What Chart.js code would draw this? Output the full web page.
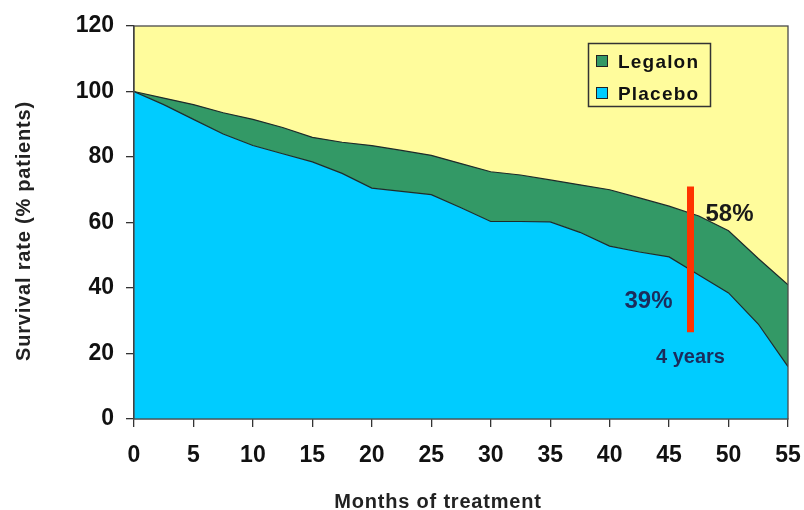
<!DOCTYPE html>
<html>
<head>
<meta charset="utf-8">
<title>Survival rate</title>
<script src="https://cdn.jsdelivr.net/npm/chart.js@4.4.1/dist/chart.umd.min.js"></script>
<style>
  html, body { margin: 0; padding: 0; background: #ffffff; }
  #wrap { width: 804px; height: 510px; }
</style>
</head>
<body>
<div id="wrap"><canvas id="survivalChart" width="804" height="510"></canvas></div>
<script>
// 🔹 Data (months of treatment vs % surviving)
const months = [0, 2.5, 5, 7.5, 10, 12.5, 15, 17.5, 20, 22.5, 25, 27.5, 30, 32.5, 35, 37.5, 40, 42.5, 45, 47.5, 50, 52.5, 55];
const legalon = [100, 98, 96, 93.5, 91.5, 89, 86, 84.5, 83.5, 82, 80.5, 78, 75.5, 74.5, 73, 71.5, 70, 67.5, 65, 62, 57.5, 49, 41];
const placebo = [100, 96, 91.5, 87, 83.5, 81, 78.5, 75, 70.5, 69.5, 68.5, 64.5, 60.3, 60.3, 60.2, 57, 52.8, 51, 49.5, 44, 38.5, 29, 16];

// 🔹 The red "4 years" marker
const markerMonth = [46.8, 46.8];
const markerValue = [71, 26.5];

// 🔹 Axis ticks
const xTicks = [0, 5, 10, 15, 20, 25, 30, 35, 40, 45, 50, 55];
const yTicks = [0, 20, 40, 60, 80, 100, 120];

const seriesNames = ["Legalon", "Placebo"];
const FONT = '"Liberation Sans", Arial, Helvetica, sans-serif';

const GREEN = "#339966";
const BLUE = "#00CCFF";
const YELLOW = "#FFFC9C";
const NAVY = "#1B2C5C";

const toPoints = (xs, ys) => xs.map((x, i) => ({ x: x, y: ys[i] }));

// 🔹 Yellow plot background + frame
const plotBackground = {
  id: "plotBackground",
  beforeDraw(chart) {
    const { ctx, chartArea: a } = chart;
    ctx.save();
    ctx.fillStyle = YELLOW;
    ctx.fillRect(a.left, a.top, a.right - a.left, a.bottom - a.top);
    ctx.restore();
  },
  afterDraw(chart) {
    const { ctx, chartArea: a } = chart;
    ctx.save();
    ctx.strokeStyle = "#4a4a4a";
    ctx.lineWidth = 1.3;
    ctx.strokeRect(a.left, a.top, a.right - a.left, a.bottom - a.top);
    ctx.restore();
  },
};

// 🔹 Legend box, percent labels and axis titles
const annotations = {
  id: "annotations",
  afterDraw(chart) {
    const { ctx } = chart;
    const xs = chart.scales.x;
    const ys = chart.scales.y;
    ctx.save();

    // legend
    ctx.strokeStyle = "#333";
    ctx.lineWidth = 1.5;
    ctx.strokeRect(588.5, 43.5, 122, 63);
    const colors = [GREEN, BLUE];
    seriesNames.forEach((name, i) => {
      const top = 55 + i * 32;
      ctx.fillStyle = colors[i];
      ctx.fillRect(596, top, 12, 12);
      ctx.strokeStyle = "#222";
      ctx.lineWidth = 1;
      ctx.strokeRect(596.5, top + 0.5, 11, 11);
      ctx.fillStyle = "#111";
      ctx.font = "bold 19px " + FONT;
      ctx.letterSpacing = "1.2px";
      ctx.textAlign = "left";
      ctx.textBaseline = "alphabetic";
      ctx.fillText(name, 618, top + 13);
    });
    ctx.letterSpacing = "0px";

    // percent labels around the marker
    const mx = xs.getPixelForValue(markerMonth[0]);
    ctx.textAlign = "center";
    ctx.textBaseline = "alphabetic";
    ctx.font = "bold 24px " + FONT;
    ctx.fillStyle = "#1a1a1a";
    ctx.fillText("58%", mx + 39, ys.getPixelForValue(60.5));
    ctx.fillStyle = NAVY;
    ctx.fillText("39%", mx - 42, ys.getPixelForValue(33.8));
    ctx.font = "bold 20px " + FONT;
    ctx.fillText("4 years", mx, ys.getPixelForValue(17.2));

    // axis titles
    ctx.fillStyle = "#222";
    ctx.font = "bold 20px " + FONT;
    ctx.letterSpacing = "0.8px";
    ctx.fillText("Months of treatment", 438, 508);
    ctx.translate(30, 231);
    ctx.rotate(-Math.PI / 2);
    ctx.fillText("Survival rate (% patients)", 0, 0);

    ctx.restore();
  },
};

const tickFont = { family: FONT, size: 23, weight: "bold" };

new Chart(document.getElementById("survivalChart"), {
  type: "line",
  data: {
    datasets: [
      {
        label: "Placebo",
        data: toPoints(months, placebo),
        borderColor: "#1e2a2a",
        borderWidth: 1.2,
        backgroundColor: BLUE,
        fill: "origin",
        pointRadius: 0,
        tension: 0,
      },
      {
        label: "Legalon",
        data: toPoints(months, legalon),
        borderColor: "#1e2a2a",
        borderWidth: 1.2,
        backgroundColor: GREEN,
        fill: 0,
        pointRadius: 0,
        tension: 0,
      },
      {
        label: "4 years",
        data: toPoints(markerMonth, markerValue),
        borderColor: "#FF3300",
        borderWidth: 7,
        borderCapStyle: "butt",
        fill: false,
        pointRadius: 0,
        order: -1,
      },
    ],
  },
  options: {
    responsive: false,
    animation: false,
    layout: { padding: { top: 26, right: 16, left: 0, bottom: 0 } },
    plugins: {
      legend: { display: false },
      tooltip: { enabled: false },
    },
    scales: {
      x: {
        type: "linear",
        min: 0,
        max: 55,
        afterBuildTicks: (scale) => {
          scale.ticks = xTicks.map((v) => ({ value: v }));
        },
        afterFit: (scale) => {
          scale.height = 91;
          scale.paddingLeft = 0;
          scale.paddingRight = 0;
        },
        ticks: { font: tickFont, color: "#111", padding: 15, maxRotation: 0 },
        grid: { drawOnChartArea: false, drawTicks: true, tickLength: 8, color: "#333", lineWidth: 1.3 },
        border: { display: true, color: "#333", width: 1.3 },
      },
      y: {
        type: "linear",
        min: 0,
        max: 120,
        afterBuildTicks: (scale) => {
          scale.ticks = yTicks.map((v) => ({ value: v }));
        },
        afterFit: (scale) => {
          scale.width = 134;
          scale.paddingTop = 0;
          scale.paddingBottom = 0;
        },
        ticks: { font: tickFont, color: "#111", padding: 12 },
        grid: { drawOnChartArea: false, drawTicks: true, tickLength: 8, color: "#333", lineWidth: 1.3 },
        border: { display: true, color: "#333", width: 1.3 },
      },
    },
  },
  plugins: [plotBackground, annotations],
});
</script>
</body>
</html>
